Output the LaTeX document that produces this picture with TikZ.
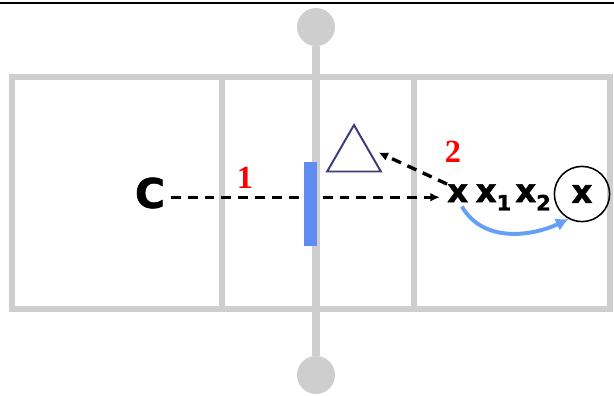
\documentclass[tikz,border=0pt]{standalone}
\usepackage{fontspec}
\newfontfamily\lettersfont{DejaVu Sans}[BoldFeatures={FakeBold=1.6}]
\newfontfamily\digitsfont{Liberation Serif}
\usepackage{tikz}
\usetikzlibrary{arrows.meta,positioning,shapes.geometric,calc}
\definecolor{wallgray}{RGB}{206,206,206}
\definecolor{barblue}{RGB}{95,140,240}
\definecolor{arcblue}{RGB}{100,160,245}
\definecolor{trinavy}{RGB}{60,60,125}
\newcommand\xsub[1]{\raisebox{-6pt}{\fontsize{15}{15}\selectfont #1}}
\tikzset{
  wall/.style={draw=wallgray, line width=4pt},
  rod/.style={draw=wallgray, line width=5.6pt},
  knob/.style={circle, fill=wallgray, minimum size=0.95cm, inner sep=0pt},
  letter/.style={
    font=\lettersfont\bfseries\fontsize{23}{23}\selectfont,
    inner sep=0pt
  },
  bigletter/.style={
    font=\lettersfont\bfseries\fontsize{29}{29}\selectfont,
    inner sep=4pt
  },
  stepnum/.style={
    text=red,
    font=\digitsfont\bfseries\fontsize{23}{23}\selectfont,
    inner sep=0pt
  },
  oldval/.style={
    regular polygon,
    regular polygon sides=3,
    draw=trinavy,
    line width=1.4pt,
    minimum size=1.55cm,
    inner sep=0pt
  },
  boxed/.style={circle, draw, line width=1.1pt, minimum size=1.38cm, inner sep=0pt},
  flow/.style={-{Latex[length=2.4mm,width=2.2mm]}, line width=2.4pt, dash pattern=on 7pt off 5pt},
  move/.style={-{Latex[length=3.2mm,width=3.4mm]}, draw=arcblue, line width=2.8pt}
}

\begin{document}
\begin{tikzpicture}[x=0.025cm, y=-0.025cm]
\useasboundingbox (0,0) rectangle (614,396);
\draw[line width=1.5pt] (0,3) -- (614,3);

\draw[wall] (12,77) rectangle (610,309);
\draw[wall] (222,77) -- (222,309);
\draw[wall] (414,77) -- (414,309);

\node[knob] (knobtop) at (316,27) {};
\node[knob] (knobbot) at (316,375) {};
\draw[rod] (knobtop) -- (knobbot);

\node[bigletter] (c) at (150,193) {C};
\node[letter, anchor=base west] (x0) at (447,202) {x};
\node[letter, base right=5pt of x0] (x1) {x\xsub{1}};
\node[letter, base right=2.5pt of x1] (x2) {x\xsub{2}};
\node[letter, boxed] (xc) at (582,194) {x};
\node[oldval] (tri) at (354,156) {};

\node[stepnum] (lab1) at (245,178) {1};
\node[stepnum] (lab2) at (453,152) {2};

\draw[flow, shorten >=5pt] ([yshift=-3pt]c.east) -- ([yshift=-3pt]c.east -| x0.west);
\fill[barblue] (304,162) rectangle (317,246);
\draw[flow, shorten >=8pt] (x0.north west) -- (tri.side 3);
\draw[move] ([xshift=3pt,yshift=-3pt]x0.south) to[out=-60, in=205] (xc.-118);
\end{tikzpicture}
\end{document}
